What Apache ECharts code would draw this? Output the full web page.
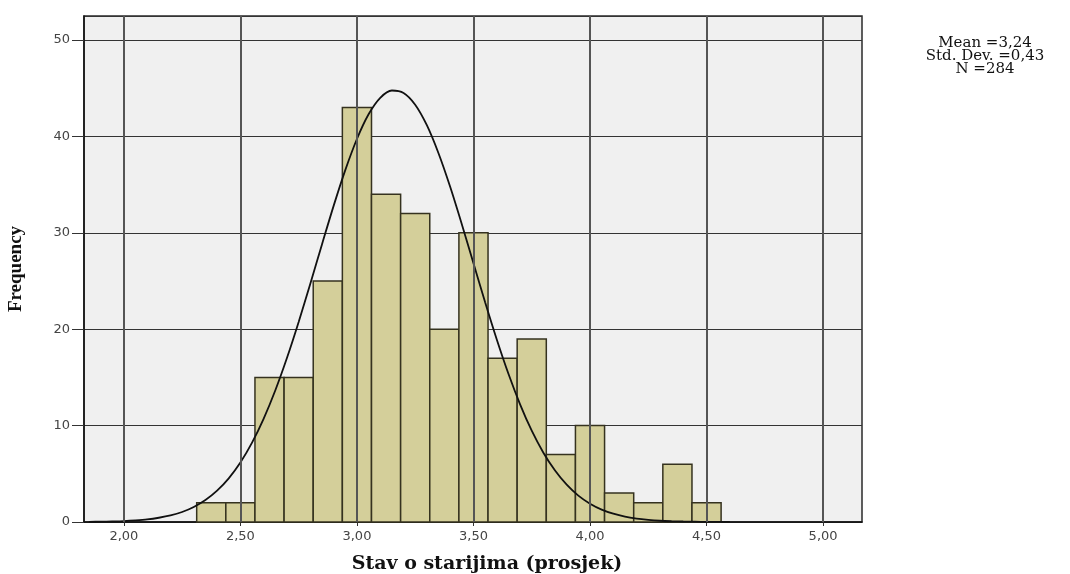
<!DOCTYPE html>
<html>
<head>
<meta charset="utf-8">
<script src="https://cdn.jsdelivr.net/npm/echarts@6/dist/echarts.min.js"></script>
<style>
  html, body { margin: 0; padding: 0; background: #ffffff; }
  #chart { width: 1070px; height: 574px; }
</style>
</head>
<body>
<div id="chart"></div>
<script>
// ---- data ----
const binCenters = [2.375, 2.5, 2.625, 2.75, 2.875, 3.0, 3.125, 3.25, 3.375, 3.5, 3.625, 3.75, 3.875, 4.0, 4.125, 4.25, 4.375, 4.5];
const counts     = [2, 2, 15, 15, 25, 43, 34, 32, 20, 30, 17, 19, 7, 10, 3, 2, 6, 2];
const binWidth = 0.125;

// normal curve as drawn in the reference
const curveX = [1.85, 1.90, 1.95, 2.00, 2.05, 2.10, 2.15, 2.20, 2.25, 2.30, 2.35, 2.40, 2.45, 2.50, 2.55, 2.60, 2.65, 2.70, 2.75, 2.80, 2.85, 2.90, 2.95, 3.00, 3.05, 3.10, 3.15, 3.20, 3.25, 3.30, 3.35, 3.40, 3.45, 3.50, 3.55, 3.60, 3.65, 3.70, 3.75, 3.80, 3.85, 3.90, 3.95, 4.00, 4.05, 4.10, 4.15, 4.20, 4.25, 4.30, 4.35, 4.40, 4.45, 4.50, 4.55, 4.60];
const curveY = [0.02, 0.03, 0.06, 0.10, 0.17, 0.27, 0.44, 0.68, 1.04, 1.56, 2.28, 3.25, 4.53, 6.17, 8.23, 10.73, 13.67, 17.04, 20.76, 24.73, 28.80, 32.80, 36.51, 39.74, 42.30, 44.01, 44.77, 44.52, 43.30, 41.17, 38.26, 34.78, 30.90, 26.84, 22.80, 18.94, 15.38, 12.21, 9.47, 7.19, 5.34, 3.87, 2.74, 1.90, 1.29, 0.86, 0.55, 0.35, 0.22, 0.13, 0.08, 0.05, 0.03, 0.014, 0.008, 0.004];

const xTicks = [2.0, 2.5, 3.0, 3.5, 4.0, 4.5, 5.0];
const statsLines = ['Mean =3,24', 'Std. Dev. =0,43', 'N =284'];
const xTitle = 'Stav o starijima (prosjek)';
const yTitle = 'Frequency';

const chart = echarts.init(document.getElementById('chart'), null, { renderer: 'canvas' });

const fmtX = v => v.toFixed(2).replace('.', ',');

const option = {
  animation: false,
  backgroundColor: '#ffffff',
  grid: {
    left: 84, right: 208, top: 16, bottom: 52,
    outerBoundsMode: 'none',
    containLabel: false,
    show: true,
    backgroundColor: '#f0f0f0',
    borderColor: '#2a2a2a',
    borderWidth: 1.5
  },
  xAxis: {
    type: 'value',
    min: 1.829,
    max: 5.167,
    name: xTitle,
    nameLocation: 'middle',
    nameGap: 33,
    nameTextStyle: { fontFamily: '"DejaVu Serif"', fontWeight: 'bold', fontSize: 19, color: '#111', padding: [0, 0, 0, 28] },
    axisLine: { show: true, lineStyle: { color: '#111', width: 1.5 } },
    axisTick: { show: true, customValues: xTicks, length: 4, lineStyle: { color: '#333' } },
    axisLabel: {
      customValues: xTicks,
      formatter: v => fmtX(v),
      fontFamily: '"DejaVu Sans"', fontSize: 13, color: '#444', margin: 8
    },
    splitLine: { show: false }
  },
  yAxis: {
    type: 'value',
    min: 0,
    max: 52.5,
    interval: 10,
    name: yTitle,
    nameLocation: 'middle',
    nameGap: 58,
    nameRotate: 90,
    nameTextStyle: { fontFamily: '"Liberation Serif"', fontWeight: 'bold', fontSize: 19, color: '#111' },
    axisLine: { show: true, lineStyle: { color: '#111', width: 1.5 } },
    axisTick: { show: true, length: 12, lineStyle: { color: '#333' } },
    axisLabel: {
      showMaxLabel: false,
      fontFamily: '"DejaVu Sans"', fontSize: 13, color: '#444', margin: 14
    },
    splitLine: { show: true, lineStyle: { color: '#333', width: 1 } }
  },
  graphic: [{
    type: 'text',
    x: 985,
    y: 37,
    style: {
      text: statsLines.join('\n'),
      font: '15px "DejaVu Serif"',
      fill: '#111',
      align: 'center',
      verticalAlign: 'top',
      lineHeight: 13
    }
  }],
  series: [
    {
      type: 'line',
      data: [],
      z: 1,
      silent: true,
      markLine: {
        silent: true,
        symbol: 'none',
        label: { show: false },
        lineStyle: { color: '#555', width: 2, type: 'solid' },
        data: xTicks.map(v => ({ xAxis: v }))
      }
    },
    {
      type: 'custom',
      z: 2,
      data: binCenters.map((c, i) => [c, counts[i]]),
      renderItem: function (params, api) {
        const c = api.value(0);
        const n = api.value(1);
        const p0 = api.coord([c - binWidth / 2, n]);
        const p1 = api.coord([c + binWidth / 2, 0]);
        return {
          type: 'rect',
          shape: { x: p0[0], y: p0[1], width: p1[0] - p0[0], height: p1[1] - p0[1] },
          style: { fill: '#d4cf9a', stroke: '#35321f', lineWidth: 1.5 }
        };
      }
    },
    {
      type: 'line',
      z: 3,
      smooth: 0.3,
      symbol: 'none',
      data: curveX.map((x, i) => [x, curveY[i]]),
      lineStyle: { color: '#111', width: 1.8 }
    }
  ]
};

chart.setOption(option);
</script>
</body>
</html>
